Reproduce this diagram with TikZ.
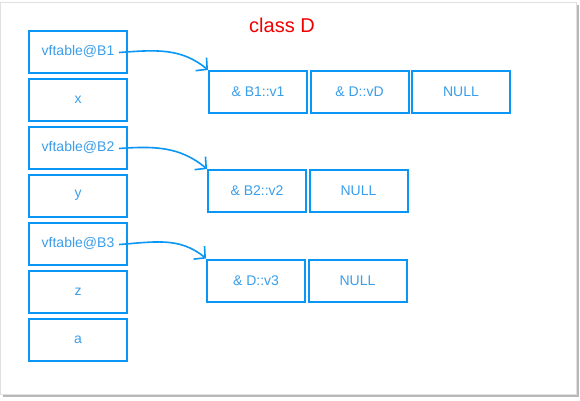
\documentclass[tikz,border=0pt]{standalone}
\usepackage{fontspec}
\setmainfont{Liberation Sans}
\usetikzlibrary{arrows.meta, positioning}
\definecolor{boxBlue}{HTML}{0A96F5}
\definecolor{txtBlue}{HTML}{3A9EEA}
\definecolor{titleRed}{HTML}{F20000}

\begin{document}
\begin{tikzpicture}[x=1pt, y=-1pt,
  every node/.style={font=\fontsize{14}{16}\selectfont, text=txtBlue},
  cell/.style={draw=boxBlue, line width=2pt, rectangle, minimum width=98pt, minimum height=42pt, inner sep=0pt},
  ptr/.style={draw=boxBlue, line width=1.6pt, -{Straight Barb[length=8pt, width=17pt, line width=1.6pt]}}]
% frame
\useasboundingbox (0,0) rectangle (580,400);
\fill[black!28] (3,5) rectangle (579,397);
\fill[white, draw=black!12] (0,2) rectangle (576,394);
\node[font=\fontsize{20}{24}\selectfont, text=titleRed] (title) at (282,25) {class D};

% object layout
\foreach \i/\t in {1/vftable@B1, 2/x, 3/vftable@B2, 4/y, 5/vftable@B3, 6/z, 7/a}{
  \node[cell] (L\i) at (78, {51.5+48*(\i-1)}) {\t};
}

% vftables
\node[cell] (V1a) at (258,92) {\& B1::v1};
\node[cell, right=1.5pt of V1a] (V1b) {\& D::vD};
\node[cell, right=1.5pt of V1b] (V1c) {NULL};

\node[cell] (V2a) at (257,191) {\& B2::v2};
\node[cell, right=1.5pt of V2a] (V2b) {NULL};

\node[cell] (V3a) at (256,280.5) {\& D::v3};
\node[cell, right=1.5pt of V3a] (V3b) {NULL};

% pointers
\foreach \s/\e in {L1/V1a, L3/V2a, L5/V3a}{
  \draw[ptr] ([xshift=-9pt, yshift=-1pt]\s.east) to[out=4, in=140] (\e.north west);
}
\end{tikzpicture}
\end{document}
